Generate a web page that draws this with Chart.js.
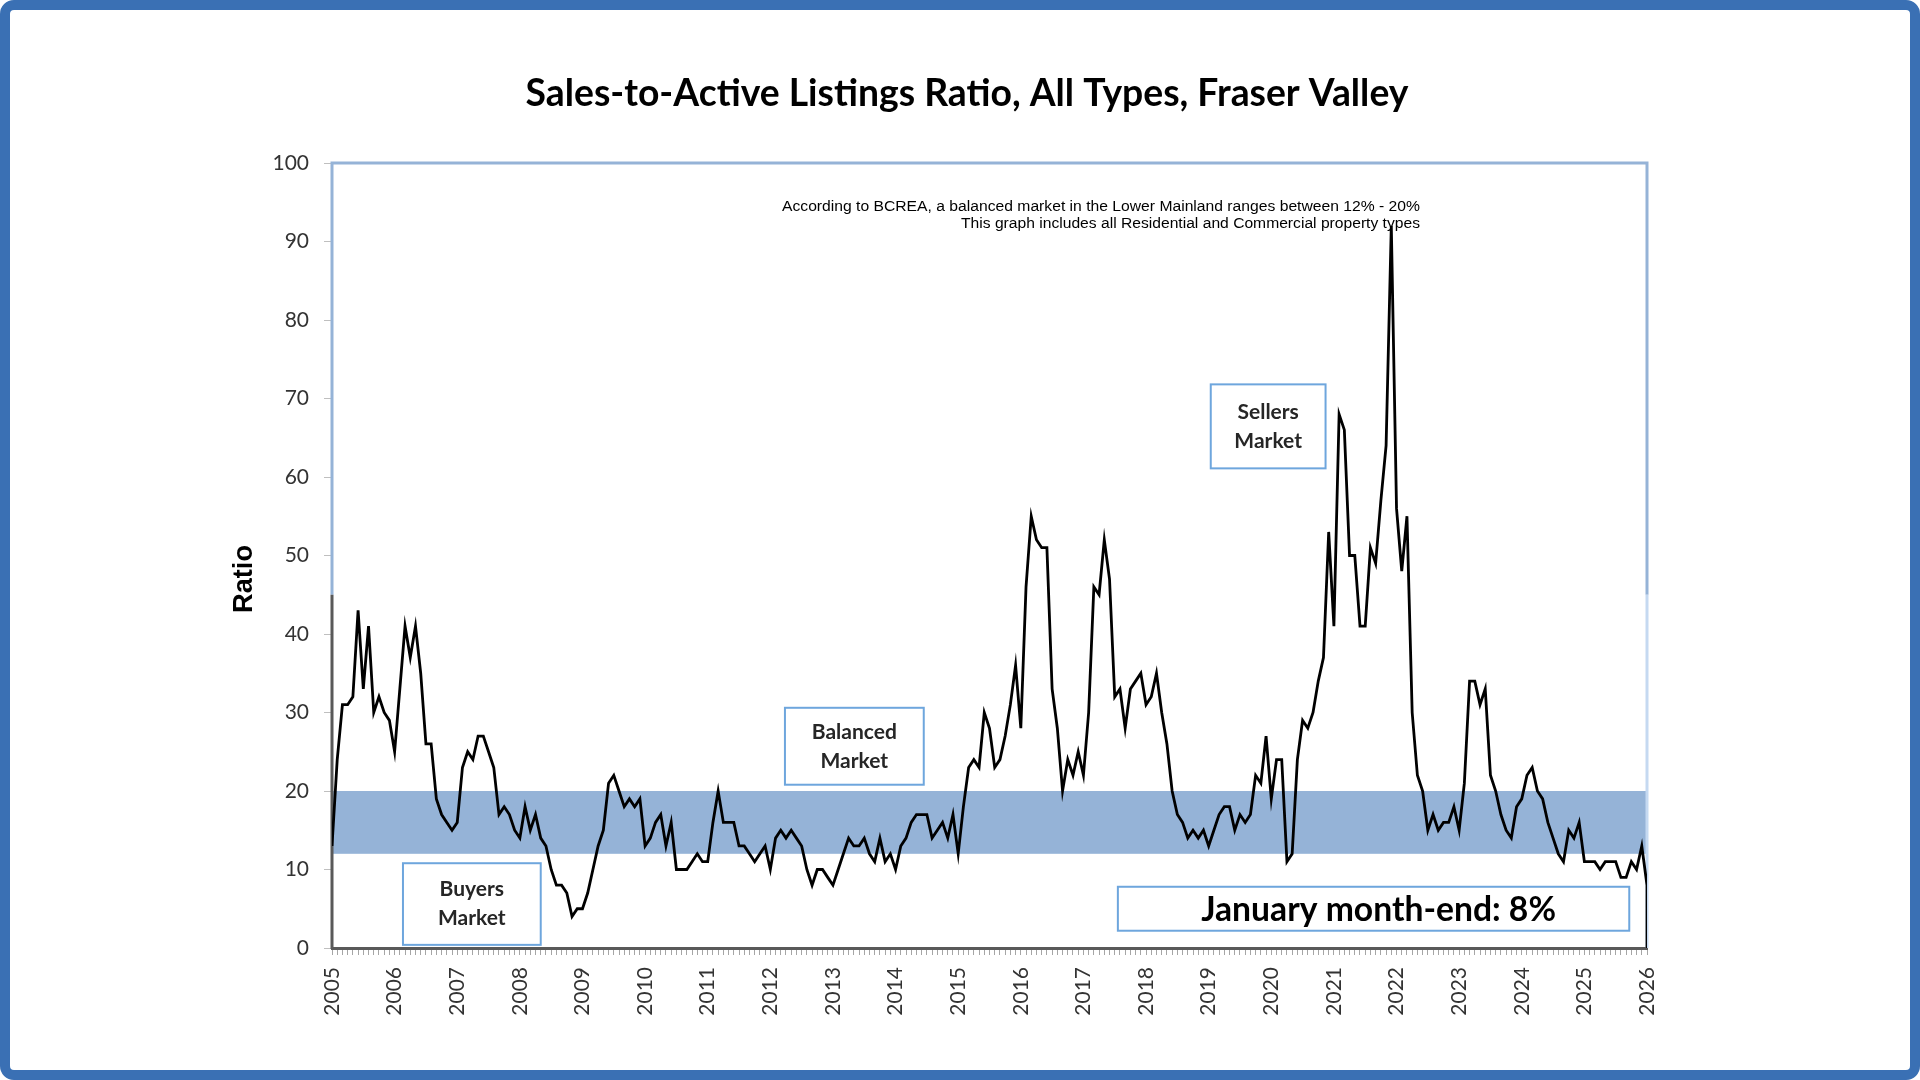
<!DOCTYPE html>
<html>
<head>
<meta charset="utf-8">
<title>Sales-to-Active Listings Ratio, All Types, Fraser Valley</title>
<script src="https://cdn.jsdelivr.net/npm/chart.js@4.4.1/dist/chart.umd.min.js"></script>
<style>
  html, body { margin: 0; padding: 0; background: #fff; }
  #wrap { position: relative; width: 1920px; height: 1080px; overflow: hidden; }
  #chart { position: absolute; left: 0; top: 0; }
  #frame {
    position: absolute; left: 0; top: 0; width: 1920px; height: 1080px;
    box-sizing: border-box; border: 10px solid #3a70b4; border-radius: 14px;
    pointer-events: none;
  }
</style>
</head>
<body>
<div id="wrap">
  <canvas id="chart" width="1920" height="1080"></canvas>
  <div id="frame"></div>
</div>
<script>
// Chart text
const chartTitle = 'Sales-to-Active Listings Ratio, All Types, Fraser Valley';
const yTitle = 'Ratio';
const noteLines = [
    'According to BCREA, a balanced market in the Lower Mainland ranges between 12% - 20%',
    'This graph includes all Residential and Commercial property types'
];
const monthEndLabel = 'January month-end: 8%';

// Axis setup
const startYear = 2005;
const endYear = 2026;
const yMin = 0;
const yMax = 100;
const yStep = 10;

// Balanced market band (percent)
const bandLow = 12;
const bandHigh = 20;

// Monthly sales-to-active ratio, Jan 2005 .. Jan 2026
const ratio = [
    13, 24, 31, 31, 32, 43, 33, 41, 30, 32, 30, 29,   // 2005
    25, 33, 41, 37, 41, 35, 26, 26, 19, 17, 16, 15,   // 2006
    16, 23, 25, 24, 27, 27, 25, 23, 17, 18, 17, 15,   // 2007
    14, 18, 15, 17, 14, 13, 10, 8, 8, 7, 4, 5,        // 2008
    5, 7, 10, 13, 15, 21, 22, 20, 18, 19, 18, 19,     // 2009
    13, 14, 16, 17, 13, 16, 10, 10, 10, 11, 12, 11,   // 2010
    11, 16, 20, 16, 16, 16, 13, 13, 12, 11, 12, 13,   // 2011
    10, 14, 15, 14, 15, 14, 13, 10, 8, 10, 10, 9,     // 2012
    8, 10, 12, 14, 13, 13, 14, 12, 11, 14, 11, 12,    // 2013
    10, 13, 14, 16, 17, 17, 17, 14, 15, 16, 14, 17,   // 2014
    12, 18, 23, 24, 23, 30, 28, 23, 24, 27, 31, 36,   // 2015
    28, 46, 55, 52, 51, 51, 33, 28, 20, 24, 22, 25,   // 2016
    22, 30, 46, 45, 52, 47, 32, 33, 28, 33, 34, 35,   // 2017
    31, 32, 35, 30, 26, 20, 17, 16, 14, 15, 14, 15,   // 2018
    13, 15, 17, 18, 18, 15, 17, 16, 17, 22, 21, 27,   // 2019
    19, 24, 24, 11, 12, 24, 29, 28, 30, 34, 37, 53,   // 2020
    41, 68, 66, 50, 50, 41, 41, 51, 49, 57, 64, 92,   // 2021
    56, 48, 55, 30, 22, 20, 15, 17, 15, 16, 16, 18,   // 2022
    15, 21, 34, 34, 31, 33, 22, 20, 17, 15, 14, 18,   // 2023
    19, 22, 23, 20, 19, 16, 14, 12, 11, 15, 14, 16,   // 2024
    11, 11, 11, 10, 11, 11, 11, 9, 9, 11, 10, 13,     // 2025
    8                                                 // 2026
];

// Annotation boxes, in chart units (x = months since Jan 2005, y = ratio)
const marketBoxes = [
    { lines: ['Buyers', 'Market'], x0: 13.6, x1: 40.0, y0: 0.4, y1: 10.8 },
    { lines: ['Balanced', 'Market'], x0: 86.8, x1: 113.4, y0: 20.8, y1: 30.6 },
    { lines: ['Sellers', 'Market'], x0: 168.4, x1: 190.4, y0: 61.1, y1: 71.8 }
];
const monthEndBox = { x0: 150.6, x1: 248.6, y0: 2.2, y1: 7.8 };

const lastMonth = (endYear - startYear) * 12;

// Build points; the original line drops back to the axis after the last month
const points = ratio.map((v, i) => ({ x: i, y: v }));
points.push({ x: ratio.length - 1, y: 0 });

// Font size so that text fills the given width
function sizeForWidth(ctx, text, weight, family, width) {
    ctx.font = weight + ' 100px ' + family;
    return 100 * width / ctx.measureText(text).width;
}

// Draw text squeezed/stretched horizontally to a width
function drawScaledText(ctx, text, x, y, width, font, align) {
    ctx.save();
    ctx.font = font;
    const w = ctx.measureText(text).width;
    ctx.translate(x, y);
    ctx.scale(width / w, 1);
    ctx.textAlign = align;
    ctx.textBaseline = 'middle';
    ctx.fillText(text, 0, 0);
    ctx.restore();
}

const overlayPlugin = {
    id: 'overlay',
    beforeDatasetsDraw(chart) {
        const { ctx, chartArea: a, scales: { y } } = chart;
        const top = y.getPixelForValue(bandHigh);
        const bottom = y.getPixelForValue(bandLow);
        const split = y.getPixelForValue(45);
        ctx.save();
        ctx.fillStyle = '#95b3d7';
        ctx.fillRect(a.left, top, a.right - a.left, bottom - top);

        // plot frame, under the line
        ctx.lineWidth = 3;
        ctx.strokeStyle = '#95b3d7';
        ctx.beginPath();
        ctx.moveTo(a.left, split);
        ctx.lineTo(a.left, a.top);
        ctx.lineTo(a.right, a.top);
        ctx.lineTo(a.right, split);
        ctx.stroke();
        ctx.strokeStyle = '#c5d9f1';
        ctx.beginPath();
        ctx.moveTo(a.right, split);
        ctx.lineTo(a.right, a.bottom);
        ctx.stroke();
        ctx.strokeStyle = '#595959';
        ctx.beginPath();
        ctx.moveTo(a.left, a.bottom + 1);
        ctx.lineTo(a.left, split);
        ctx.stroke();
        ctx.restore();
    },
    afterDraw(chart) {
        const { ctx, scales: { x, y } } = chart;
        ctx.save();

        // title
        ctx.fillStyle = '#000';
        const titleSize = sizeForWidth(ctx, chartTitle, 'bold', 'Lato', 883);
        ctx.font = 'bold ' + titleSize + 'px Lato';
        ctx.textAlign = 'center';
        ctx.textBaseline = 'middle';
        ctx.fillText(chartTitle, 967, 94);

        // y axis title
        ctx.save();
        ctx.translate(245, 579);
        ctx.rotate(-Math.PI / 2);
        const ySize = sizeForWidth(ctx, yTitle, 'bold', 'Liberation Sans', 68);
        ctx.font = 'bold ' + ySize + 'px "Liberation Sans"';
        ctx.fillText(yTitle, 0, 0);
        ctx.restore();

        // notes, right aligned under the top border
        drawScaledText(ctx, noteLines[0], 1420, 207, 638, '14px "Liberation Sans"', 'right');
        drawScaledText(ctx, noteLines[1], 1420, 224, 459, '14px "Liberation Sans"', 'right');

        // market boxes
        const drawBox = (b) => {
            const left = x.getPixelForValue(b.x0);
            const right = x.getPixelForValue(b.x1);
            const top = y.getPixelForValue(b.y1);
            const bottom = y.getPixelForValue(b.y0);
            ctx.fillStyle = '#fff';
            ctx.fillRect(left, top, right - left, bottom - top);
            ctx.strokeStyle = '#6ea6dd';
            ctx.lineWidth = 2;
            ctx.strokeRect(left, top, right - left, bottom - top);
            return { cx: (left + right) / 2, cy: (top + bottom) / 2 };
        };

        marketBoxes.forEach(b => {
            const c = drawBox(b);
            ctx.fillStyle = '#262626';
            ctx.font = 'bold 21px Lato';
            ctx.textAlign = 'center';
            ctx.textBaseline = 'middle';
            ctx.fillText(b.lines[0], c.cx, c.cy - 14.5);
            ctx.fillText(b.lines[1], c.cx, c.cy + 14.5);
        });

        const c = drawBox(monthEndBox);
        ctx.fillStyle = '#000';
        const mSize = sizeForWidth(ctx, monthEndLabel, 'bold', 'Lato', 355);
        ctx.font = 'bold ' + mSize + 'px Lato';
        ctx.textAlign = 'center';
        ctx.textBaseline = 'middle';
        ctx.fillText(monthEndLabel, c.cx + 5, c.cy + 1);

        ctx.restore();
    }
};

const ctx = document.getElementById('chart').getContext('2d');

new Chart(ctx, {
    type: 'line',
    data: {
        datasets: [{
            label: 'Sales-to-Active Ratio',
            data: points,
            borderColor: '#000',
            borderWidth: 2.8,
            pointRadius: 0,
            tension: 0,
            fill: false
        }]
    },
    options: {
        responsive: false,
        animation: false,
        layout: {
            padding: { left: 232, right: 273, top: 163, bottom: 12 }
        },
        plugins: {
            legend: { display: false },
            title: { display: false },
            tooltip: { enabled: false }
        },
        scales: {
            x: {
                type: 'linear',
                min: 0,
                max: lastMonth,
                afterFit: (scale) => { scale.height = 120; },
                grid: {
                    drawOnChartArea: false,
                    drawTicks: true,
                    tickLength: 7,
                    color: '#a6a6a6',
                    lineWidth: 1
                },
                border: { display: true, color: '#595959', width: 3 },
                ticks: {
                    stepSize: 1,
                    maxTicksLimit: 300,
                    autoSkip: false,
                    minRotation: 90,
                    maxRotation: 90,
                    padding: 12,
                    color: '#333',
                    font: { family: 'Lato', size: 21 },
                    callback: (v) => v % 12 === 0 ? String(startYear + v / 12) : ''
                }
            },
            y: {
                min: yMin,
                max: yMax,
                afterFit: (scale) => { scale.width = 100; },
                grid: {
                    drawOnChartArea: false,
                    tickLength: 8,
                    color: '#bfbfbf'
                },
                border: { display: false },
                ticks: {
                    stepSize: yStep,
                    padding: 15,
                    color: '#333',
                    font: { family: 'Lato', size: 21 }
                }
            }
        }
    },
    plugins: [overlayPlugin]
});
</script>
</body>
</html>
